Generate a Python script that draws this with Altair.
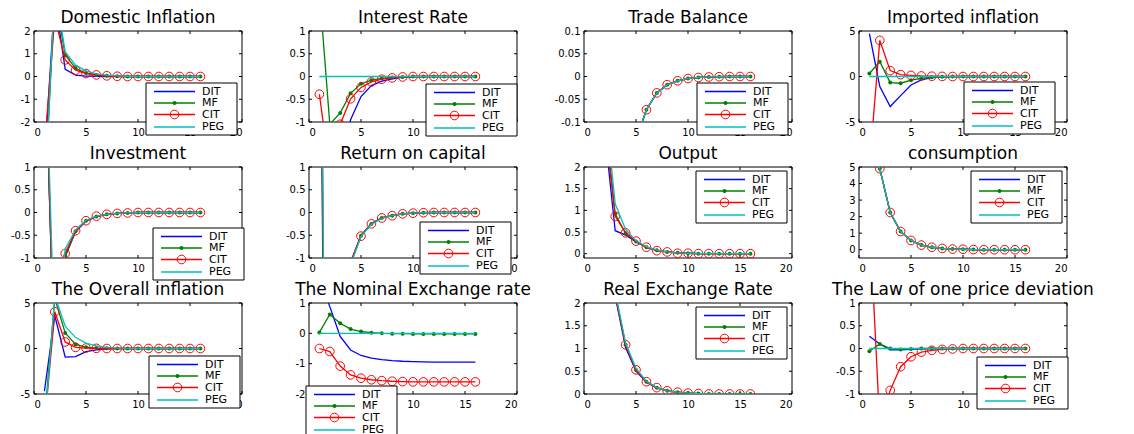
import altair as alt
import pandas as pd

# ---------------- data (x = period 1..16) ----------------
X = list(range(1, 17))
SERIES = ["DIT", "MF", "CIT", "PEG"]

dom_dit = [-3.8, 3.45, 0.32, 0.06, 0.02, 0.01, 0, 0, 0, 0, 0, 0, 0, 0, 0, 0]
dom_mf = [-5.5, 3.6, 0.95, 0.36, 0.15, 0.07, 0.03, 0.01, 0, 0, 0, 0, 0, 0, 0, 0]
dom_cit = [-3.2, 2.6, 0.73, 0.28, 0.13, 0.07, 0.03, 0.01, 0, 0, 0, 0, 0, 0, 0, 0]
dom_peg = [-5.8, 4.0, 1.08, 0.5, 0.25, 0.12, 0.06, 0.03, 0.01, 0, 0, 0, 0, 0, 0, 0]

int_dit = [-3.0, -2.4, -1.9, -0.95, -0.44, -0.2, -0.1, -0.05, -0.02, -0.01, 0, 0, 0, 0, 0, 0]
int_mf = [1.9, -1.05, -0.8, -0.37, -0.16, -0.08, -0.04, -0.02, -0.01, 0, 0, 0, 0, 0, 0, 0]
int_cit = [-0.39, -2.1, -1.05, -0.49, -0.24, -0.12, -0.06, -0.03, -0.01, 0, 0, 0, 0, 0, 0, 0]
int_peg = [0, 0, 0, 0, 0, 0, 0, 0, 0, 0, 0, 0, 0, 0, 0, 0]

tb_dit = [-1.5, -1.0, -0.6, -0.3, -0.14, -0.073, -0.036, -0.018, -0.0095, -0.0045, -0.0022, -0.001, -0.0005, 0, 0, 0]
tb_mf = [-1.5, -1.0, -0.6, -0.3, -0.14, -0.073, -0.036, -0.018, -0.0095, -0.0045, -0.0022, -0.001, -0.0005, 0, 0, 0]
tb_cit = [-1.5, -1.0, -0.6, -0.3, -0.14, -0.073, -0.036, -0.018, -0.0095, -0.0045, -0.0022, -0.001, -0.0005, 0, 0, 0]
tb_peg = [-1.5, -1.0, -0.6, -0.3, -0.14, -0.073, -0.036, -0.018, -0.0095, -0.0045, -0.0022, -0.001, -0.0005, 0, 0, 0]

imp_dit = [4.7, -1.1, -3.3, -2.1, -0.93, -0.37, -0.12, -0.04, -0.01, 0, 0, 0, 0, 0, 0, 0]
imp_mf = [0.33, 1.63, -0.67, -0.74, -0.4, -0.2, -0.08, -0.03, -0.01, 0, 0, 0, 0, 0, 0, 0]
imp_cit = [-9.8, 3.97, 0.65, 0.2, 0.12, 0.06, 0.03, 0.01, 0, 0, 0, 0, 0, 0, 0, 0]
imp_peg = [0, 0, 0, 0, 0, 0, 0, 0, 0, 0, 0, 0, 0, 0, 0, 0]

inv_dit = [4.1, -3.6, -0.97, -0.42, -0.19, -0.09, -0.04, -0.02, -0.01, 0, 0, 0, 0, 0, 0, 0]
inv_mf = [4.1, -3.6, -0.95, -0.41, -0.18, -0.09, -0.04, -0.02, -0.01, 0, 0, 0, 0, 0, 0, 0]
inv_cit = [4.0, -3.5, -0.9, -0.4, -0.18, -0.08, -0.04, -0.02, -0.01, 0, 0, 0, 0, 0, 0, 0]
inv_peg = [4.5, -3.0, -0.8, -0.38, -0.17, -0.08, -0.04, -0.02, -0.01, 0, 0, 0, 0, 0, 0, 0]

roc_dit = [8, -20, -5, -1.1, -0.5, -0.24, -0.12, -0.07, -0.03, -0.015, -0.005, 0, 0, 0, 0, 0]
roc_mf = [9, -20, -5, -1.1, -0.51, -0.25, -0.12, -0.07, -0.03, -0.015, -0.005, 0, 0, 0, 0, 0]
roc_cit = [10, -20, -5, -1.1, -0.52, -0.25, -0.12, -0.07, -0.03, -0.015, -0.005, 0, 0, 0, 0, 0]
roc_peg = [10, -18, -5, -1.15, -0.53, -0.26, -0.13, -0.07, -0.03, -0.015, -0.005, 0, 0, 0, 0, 0]

out_dit = [5, 2.8, 0.53, 0.43, 0.27, 0.15, 0.07, 0.04, 0.02, 0.01, 0, 0, 0, 0, 0, 0]
out_mf = [5, 3.2, 0.92, 0.47, 0.28, 0.15, 0.08, 0.04, 0.02, 0.01, 0, 0, 0, 0, 0, 0]
out_cit = [5, 3.0, 0.86, 0.48, 0.29, 0.15, 0.07, 0.04, 0.01, 0.01, 0, 0, 0, 0, 0, 0]
out_peg = [5, 3.5, 1.15, 0.56, 0.3, 0.16, 0.08, 0.04, 0.02, 0.01, 0, 0, 0, 0, 0, 0]

con_dit = [6.0, 4.9, 2.25, 1.1, 0.56, 0.28, 0.15, 0.08, 0.04, 0.03, 0.01, 0, 0, 0, 0, 0]
con_mf = [6.0, 4.9, 2.25, 1.1, 0.56, 0.28, 0.15, 0.08, 0.04, 0.03, 0.01, 0, 0, 0, 0, 0]
con_cit = [6.0, 4.9, 2.25, 1.1, 0.56, 0.28, 0.15, 0.08, 0.04, 0.03, 0.01, 0, 0, 0, 0, 0]
con_peg = [6.0, 4.9, 2.25, 1.1, 0.56, 0.28, 0.15, 0.08, 0.04, 0.03, 0.01, 0, 0, 0, 0, 0]

ovr_dit = [-4.7, 3.6, -0.95, -0.9, -0.35, -0.15, -0.05, -0.02, 0, 0, 0, 0, 0, 0, 0, 0]
ovr_mf = [-8.0, 5.5, 1.7, 0.45, 0.15, 0.05, 0.02, 0, 0, 0, 0, 0, 0, 0, 0, 0]
ovr_cit = [-8.5, 4.03, 0.72, 0.12, 0.05, 0.02, 0, 0, 0, 0, 0, 0, 0, 0, 0, 0]
ovr_peg = [-9.0, 5.8, 2.45, 1.2, 0.6, 0.3, 0.12, 0.05, 0.02, 0, 0, 0, 0, 0, 0, 0]

ner_dit = [1.8, 0.88, -0.1, -0.55, -0.73, -0.82, -0.87, -0.9, -0.92, -0.93, -0.94, -0.95, -0.95, -0.95, -0.95, -0.95]
ner_mf = [0.03, 0.62, 0.33, 0.14, 0.06, 0.02, 0, -0.01, -0.01, -0.02, -0.02, -0.02, -0.02, -0.02, -0.02, -0.02]
ner_cit = [-0.5, -0.6, -1.08, -1.37, -1.48, -1.53, -1.56, -1.58, -1.59, -1.6, -1.6, -1.6, -1.6, -1.6, -1.6, -1.6]
ner_peg = [0, 0, 0, 0, 0, 0, 0, 0, 0, 0, 0, 0, 0, 0, 0, 0]

rer_dit = [6.0, 4.0, 2.15, 1.02, 0.5, 0.26, 0.13, 0.07, 0.04, 0.02, 0.01, 0, 0, 0, 0, 0]
rer_mf = [6.0, 4.0, 2.2, 1.08, 0.53, 0.27, 0.14, 0.07, 0.04, 0.02, 0.01, 0, 0, 0, 0, 0]
rer_cit = [6.0, 4.0, 2.2, 1.08, 0.53, 0.27, 0.14, 0.07, 0.04, 0.02, 0.01, 0, 0, 0, 0, 0]
rer_peg = [6.0, 4.0, 2.25, 1.12, 0.56, 0.28, 0.14, 0.07, 0.04, 0.02, 0.01, 0, 0, 0, 0, 0]

lop_dit = [0.27, 0.1, -0.03, -0.03, -0.02, -0.01, 0, 0, 0, 0, 0, 0, 0, 0, 0, 0]
lop_mf = [-0.06, 0.1, 0.0, -0.02, -0.01, 0, 0, 0, 0, 0, 0, 0, 0, 0, 0, 0]
lop_cit = [2.95, -1.7, -0.92, -0.4, -0.18, -0.08, -0.04, -0.02, -0.01, 0, 0, 0, 0, 0, 0, 0]
lop_peg = [0, 0, 0, 0, 0, 0, 0, 0, 0, 0, 0, 0, 0, 0, 0, 0]

X_TICKS = [0, 5, 10, 15, 20]
TITLES = ["Domestic Inflation", "Interest Rate", "Trade Balance", "Imported inflation",
          "Investment", "Return on capital", "Output", "consumption",
          "The Overall inflation", "The Nominal Exchange rate", "Real Exchange Rate",
          "The Law of one price deviation"]
Y_DOMAINS = [[-2, 2], [-1, 1], [-0.1, 0.1], [-5, 5],
             [-1, 1], [-1, 1], [-0.1, 2], [-0.5, 5],
             [-5, 5], [-2, 1], [0, 2], [-1, 1]]
Y_TICKS = [[-2, -1, 0, 1, 2], [-1, -0.5, 0, 0.5, 1], [-0.1, -0.05, 0, 0.05, 0.1], [-5, 0, 5],
           [-1, -0.5, 0, 0.5, 1], [-1, -0.5, 0, 0.5, 1], [0, 0.5, 1, 1.5, 2], [0, 1, 2, 3, 4, 5],
           [-5, 0, 5], [-2, -1, 0, 1], [0, 0.5, 1, 1.5, 2], [-1, -0.5, 0, 0.5, 1]]
PANEL_SERIES = [
    [dom_dit, dom_mf, dom_cit, dom_peg], [int_dit, int_mf, int_cit, int_peg],
    [tb_dit, tb_mf, tb_cit, tb_peg], [imp_dit, imp_mf, imp_cit, imp_peg],
    [inv_dit, inv_mf, inv_cit, inv_peg], [roc_dit, roc_mf, roc_cit, roc_peg],
    [out_dit, out_mf, out_cit, out_peg], [con_dit, con_mf, con_cit, con_peg],
    [ovr_dit, ovr_mf, ovr_cit, ovr_peg], [ner_dit, ner_mf, ner_cit, ner_peg],
    [rer_dit, rer_mf, rer_cit, rer_peg], [lop_dit, lop_mf, lop_cit, lop_peg],
]

# ---------------- styling / layout ----------------
COLORS = ["#0000ff", "#008000", "#ff0000", "#00bfbf"]
LW = 1.3
W, H = 208, 91
FONT = "DejaVu Sans"
LEG_POS = [(112, 52), (117, 53), (113, 52), (105, 51),
           (119, 61), (111, 55), (112, 4), (112, 4),
           (115, 53), (-3, 83), (112, 4), (118, 54)]
LEG_W, LEG_H = 91, 52
LEG_ROWS = [8.5, 20, 31.5, 44]
TICK = 3
LABEL_EXPR = "'' + datum.value"
ONE = alt.InlineData(values=[{"a": 0}])


def legend_layers(lx, ly):
    out = [alt.Chart(ONE).mark_rect(fill="white", stroke="black", strokeWidth=1).encode(
        x=alt.value(lx), x2=alt.value(lx + LEG_W), y=alt.value(ly), y2=alt.value(ly + LEG_H))]
    for i, name in enumerate(SERIES):
        yy = ly + LEG_ROWS[i]
        out.append(alt.Chart(ONE).mark_rule(color=COLORS[i], strokeWidth=LW).encode(
            x=alt.value(lx + 8), x2=alt.value(lx + 49), y=alt.value(yy)))
        if name == "MF":
            out.append(alt.Chart(ONE).mark_point(filled=True, color=COLORS[i], size=16, opacity=1, shape="circle").encode(
                x=alt.value(lx + 28.5), y=alt.value(yy)))
        if name == "CIT":
            out.append(alt.Chart(ONE).mark_point(filled=False, color=COLORS[i], size=75, strokeWidth=1, opacity=1, shape="circle").encode(
                x=alt.value(lx + 28.5), y=alt.value(yy)))
        out.append(alt.Chart(ONE).mark_text(align="left", baseline="middle", font=FONT, fontSize=11, color="black").encode(
            x=alt.value(lx + 56), y=alt.value(yy), text=alt.value(name)))
    return out


def frame_layers(k, xs, ys):
    """Axes box (MATLAB style) with inward ticks on all four sides."""
    one = alt.Chart(ONE)
    xt = alt.Chart(pd.DataFrame({"t": X_TICKS}))
    yt = alt.Chart(pd.DataFrame({"t": Y_TICKS[k]}))
    rule = dict(color="black", strokeWidth=1)
    tx = alt.X("t:Q", scale=xs, axis=None)
    ty = alt.Y("t:Q", scale=ys, axis=None)
    return [
        one.mark_rule(**rule).encode(x=alt.value(0), x2=alt.value(W), y=alt.value(0)),
        one.mark_rule(**rule).encode(x=alt.value(0), x2=alt.value(W), y=alt.value(H)),
        one.mark_rule(**rule).encode(x=alt.value(0), y=alt.value(0), y2=alt.value(H)),
        one.mark_rule(**rule).encode(x=alt.value(W), y=alt.value(0), y2=alt.value(H)),
        xt.mark_rule(**rule).encode(x=tx, y=alt.value(H - TICK), y2=alt.value(H)),
        xt.mark_rule(**rule).encode(x=tx, y=alt.value(0), y2=alt.value(TICK)),
        yt.mark_rule(**rule).encode(y=ty, x=alt.value(0), x2=alt.value(TICK)),
        yt.mark_rule(**rule).encode(y=ty, x=alt.value(W - TICK), x2=alt.value(W)),
    ]


def panel(k):
    xs = alt.Scale(domain=[0, 20], nice=False, zero=False)
    ys = alt.Scale(domain=Y_DOMAINS[k], nice=False, zero=False)
    common = dict(ticks=False, domain=False, title=None, grid=False, minExtent=0)
    ax_b = alt.Axis(orient="bottom", values=X_TICKS, labelExpr=LABEL_EXPR, labelPadding=5, **common)
    ax_l = alt.Axis(orient="left", values=Y_TICKS[k], labelExpr=LABEL_EXPR, labelPadding=4, **common)
    layers = frame_layers(k, xs, ys)
    for i, name in enumerate(SERIES):
        df = pd.DataFrame({"x": X, "y": PANEL_SERIES[k][i]})
        base = alt.Chart(df)
        xa, ya = (ax_b, ax_l) if i == 0 else (None, None)
        layers.append(base.mark_line(color=COLORS[i], strokeWidth=LW, clip=True).encode(
            x=alt.X("x:Q", scale=xs, axis=xa), y=alt.Y("y:Q", scale=ys, axis=ya)))
        if name == "MF":
            layers.append(base.mark_point(filled=True, color=COLORS[i], size=16, opacity=1, shape="circle", clip=True).encode(
                x=alt.X("x:Q", scale=xs, axis=None), y=alt.Y("y:Q", scale=ys, axis=None)))
        if name == "CIT":
            layers.append(base.mark_point(filled=False, color=COLORS[i], size=75, strokeWidth=1, opacity=1, shape="circle", clip=True).encode(
                x=alt.X("x:Q", scale=xs, axis=None), y=alt.Y("y:Q", scale=ys, axis=None)))
    layers += legend_layers(*LEG_POS[k])
    # panel title as a text mark centred over the plot box
    layers.append(alt.Chart(ONE).mark_text(align="center", baseline="alphabetic", font=FONT, fontSize=17,
                                           color="black").encode(
        x=alt.value(W / 2), y=alt.value(-8), text=alt.value(TITLES[k])))
    return alt.layer(*layers).resolve_axis(x="independent", y="independent").properties(width=W, height=H)


chart = alt.concat(*[panel(k) for k in range(12)], columns=4,
                   spacing={"row": 45, "column": 67}, bounds="flush").properties(
    padding={"left": 2, "top": 1, "right": 5, "bottom": 5}, background="white"
).configure_view(strokeWidth=0).configure_axis(
    labelFont=FONT, labelFontSize=10, labelColor="black", grid=False)

chart.save("out.html", embed_options={"renderer": "svg", "actions": False})
